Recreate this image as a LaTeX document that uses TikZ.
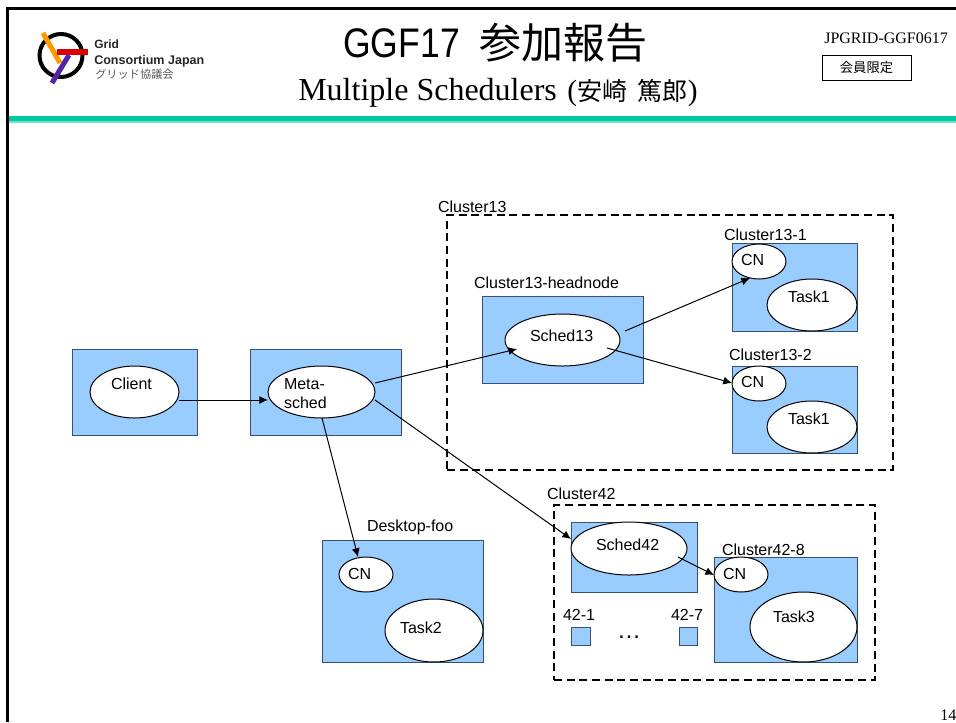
\documentclass[tikz,border=0pt]{standalone}
\usepackage{fontspec}
\setmainfont{Liberation Sans}
\newfontfamily\serifface{Liberation Serif}
\newfontfamily\cjkface{Noto Sans CJK JP}
\usetikzlibrary{arrows.meta,shapes.geometric}
\definecolor{boxblue}{HTML}{99CCFF}
\definecolor{boxedge}{HTML}{3A5070}
\definecolor{tealdark}{HTML}{00C8A0}
\definecolor{teallight}{HTML}{66E6C4}
\definecolor{logoorange}{HTML}{FF9900}
\definecolor{logored}{HTML}{DD0000}
\definecolor{logopurple}{HTML}{5522AA}
\tikzset{
  hostbox/.style={draw=boxedge,fill=boxblue,line width=0.75pt,rectangle,inner sep=0pt,outer sep=0pt},
  procell/.style={draw=black,fill=white,line width=0.75pt,ellipse,inner sep=0pt,outer sep=0pt},
  clusterbox/.style={draw=black,line width=0.8pt,dash pattern=on 6pt off 3.5pt,rectangle,inner sep=0pt,outer sep=0pt},
  lbl/.style={anchor=base west,inner sep=0pt,outer sep=0pt,font=\fontsize{12}{14}\selectfont},
  flow/.style={draw=black,line width=0.75pt,-{Latex[length=6.5pt,width=6pt]}},
}
\newcommand{\pshape}[6]{\node[#1,minimum width={(#5-#3)*0.75pt},minimum height={(#6-#4)*0.75pt}] (#2) at ({(#3+#5)/2},{(#4+#6)/2}) {};}
\begin{document}
\begin{tikzpicture}[x=0.75pt,y=-0.75pt]
\useasboundingbox (0,0) rectangle (956,722);
% frame
\coordinate (frameTL) at (7.3,8.7);
\coordinate (frameTR) at (956,8.7);
\coordinate (frameBL) at (7.3,722);
\draw[line width=2.2pt,black] (frameBL) -- (frameTL) -- (frameTR);
\fill[tealdark] (9,116) rectangle (956,120.5);
\fill[teallight] (9,120.5) rectangle (956,123);
% logo
\draw[black,line width=3pt] (61,55.5) circle [radius=21.5];
\draw[logoorange,line width=3.8pt] (43,33) -- (60,63);
\draw[logored,line width=3.8pt] (57,52) -- (88,52);
\draw[logopurple,line width=3.8pt] (69,55) -- (52,83);
\node[anchor=base west,inner sep=0pt,text=black!85,font=\fontsize{9}{10}\selectfont\bfseries] (logoA) at (94,48.5) {Grid};
\node[anchor=base west,inner sep=0pt,text=black!85,font=\fontsize{9.4}{10}\selectfont\bfseries] (logoB) at (94,64) {Consortium Japan};
\node[anchor=base west,inner sep=0pt,text=black!65,font=\fontsize{8.4}{10}\selectfont\cjkface] (logoC) at (95,78) {グリッド協議会};
% title
\node[anchor=base west,inner sep=0pt,transform shape,xscale=0.86,font=\fontsize{31}{34}\selectfont] (titleA) at (343,57.5) {GGF17};
\node[anchor=base west,inner sep=0pt,font=\fontsize{31.5}{34}\selectfont\cjkface] (titleB) at (479,58) {参加報告};
\node[anchor=base west,inner sep=0pt,font=\fontsize{24}{28}\selectfont\serifface] (subA) at (298,100) {Multiple Schedulers};
\node[anchor=base west,inner sep=0pt,font=\fontsize{18.8}{24}\selectfont\cjkface] (subB) at (567,100) {{\fontsize{22}{24}\selectfont\serifface (}安崎\hspace{7.5pt}篤郎\hspace{0.5pt}{\fontsize{22}{24}\selectfont\serifface )}};
\node[anchor=base west,inner sep=0pt,font=\fontsize{12}{14}\selectfont\serifface] (docid) at (824,43) {JPGRID-GGF0617};
\node[draw=black,line width=0.75pt,fill=white,minimum width=66.75pt,minimum height=18.75pt,inner sep=0pt,font=\fontsize{10}{12}\selectfont\cjkface] (limited) at (866.5,67.5) {会員限定};
\node[anchor=base west,inner sep=0pt,font=\fontsize{12}{14}\selectfont\serifface] (pageno) at (940,720) {14};
% clusters
\pshape{clusterbox}{c13}{447}{215}{893}{470}
\pshape{clusterbox}{c42}{554}{505}{875}{680}
% hosts
\pshape{hostbox}{clientbox}{72}{349}{197}{435}
\pshape{hostbox}{metabox}{250}{349}{401}{435}
\pshape{hostbox}{deskbox}{322}{540}{483}{662}
\pshape{hostbox}{headbox}{482}{296}{643}{383}
\pshape{hostbox}{c131box}{732}{243}{857}{331}
\pshape{hostbox}{c132box}{732}{366}{857}{453}
\pshape{hostbox}{s42box}{571}{522}{697}{592}
\pshape{hostbox}{c428box}{714}{557}{857}{662}
\pshape{hostbox}{sqA}{571}{627}{590}{645}
\pshape{hostbox}{sqB}{679}{627}{697}{645}
% processes
\pshape{procell}{client}{90}{366}{179}{418}
\pshape{procell}{meta}{268}{366}{375}{418}
\pshape{procell}{deskcn}{339}{557}{393}{592}
\pshape{procell}{task2}{385}{599}{483}{662}
\pshape{procell}{sched13}{505}{314}{620}{366}
\pshape{procell}{cna}{732}{244}{786}{279}
\pshape{procell}{taska}{767}{279}{857}{331}
\pshape{procell}{cnb}{732}{366}{786}{401}
\pshape{procell}{taskb}{767}{401}{857}{453}
\pshape{procell}{sched42}{571}{522}{687}{575}
\pshape{procell}{cnc}{714}{557}{768}{592}
\pshape{procell}{task3}{750}{592}{857}{662}
% labels
\node[lbl] (t01) at (111,389) {Client};
\node[lbl] (t02) at (284,389) {Meta-};
\node[lbl] (t03) at (284,408) {sched};
\node[lbl] (t04) at (367,531) {Desktop-foo};
\node[lbl] (t05) at (348,579) {CN};
\node[lbl] (t06) at (400,633) {Task2};
\node[lbl] (t07) at (438,212) {Cluster13};
\node[lbl] (t08) at (724,240) {Cluster13-1};
\node[lbl] (t09) at (474,288) {Cluster13-headnode};
\node[lbl] (t10) at (530,341) {Sched13};
\node[lbl] (t11) at (741,265) {CN};
\node[lbl] (t12) at (788,302) {Task1};
\node[lbl] (t13) at (729,360) {Cluster13-2};
\node[lbl] (t14) at (741,387) {CN};
\node[lbl] (t15) at (788,424) {Task1};
\node[lbl] (t16) at (547,499) {Cluster42};
\node[lbl] (t17) at (596,550) {Sched42};
\node[lbl] (t18) at (722,555) {Cluster42-8};
\node[lbl] (t19) at (723,579) {CN};
\node[lbl] (t20) at (773,622) {Task3};
\node[lbl] (t21) at (563,620) {42-1};
\node[lbl] (t22) at (671,620) {42-7};
\node[anchor=base,inner sep=0pt,font=\fontsize{18}{20}\selectfont] (t23) at (629,638.5) {…};
% connectors
\draw[flow] ([shift={(44.5,8)}]client.center) -- ([shift={(-53.5,8)}]meta.center);
\draw[flow] ([shift={(53.5,-9)}]meta.center) -- ([shift={(-45.5,9)}]sched13.center);
\draw[flow] ([shift={(62.5,-9)}]sched13.center) -- ([shift={(-9,16.5)}]cna.center);
\draw[flow] ([shift={(44.5,8)}]sched13.center) -- ([shift={(-27,-0.5)}]cnb.center);
\draw[flow] ([shift={(53.5,8)}]meta.center) -- ([shift={(-58,-9.5)}]sched42.center);
\draw[flow] ([shift={(49,8.5)}]sched42.center) -- ([shift={(-27,0.5)}]cnc.center);
\draw[flow] ([shift={(0.5,26)}]meta.center) -- ([shift={(-8,-17.5)}]deskcn.center);
\end{tikzpicture}
\end{document}
